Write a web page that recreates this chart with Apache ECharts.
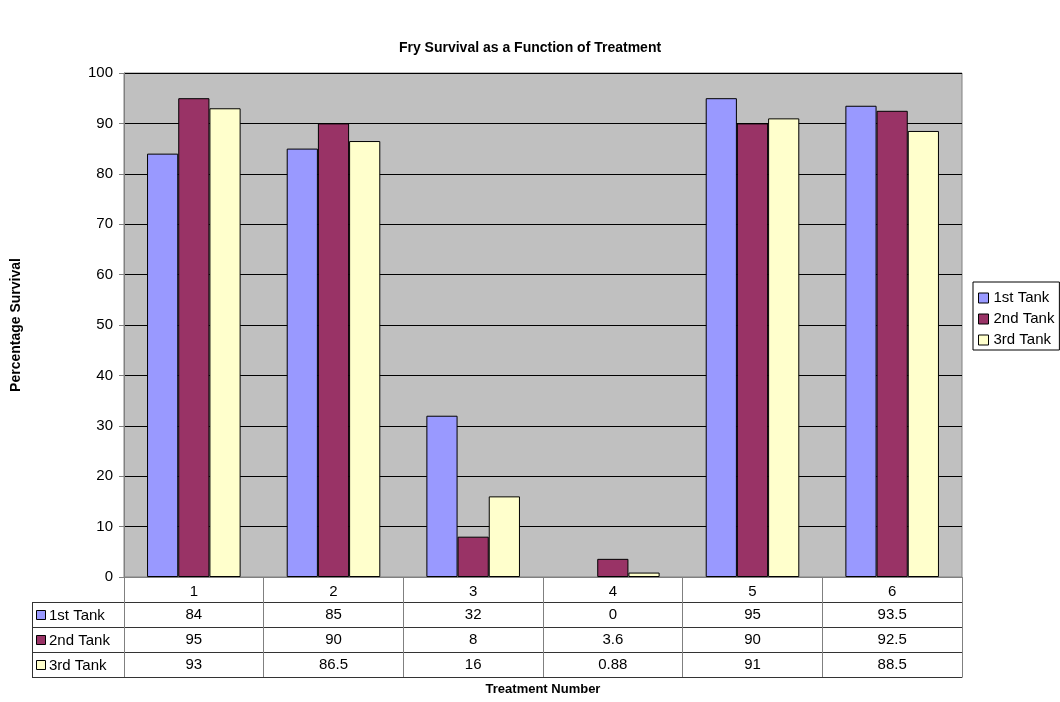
<!DOCTYPE html>
<html>
<head>
<meta charset="utf-8">
<script src="https://cdn.jsdelivr.net/npm/echarts@6/dist/echarts.min.js"></script>
<style>html,body{margin:0;padding:0;background:#fff;}#c{width:1060px;height:702px;}</style>
</head>
<body>
<div id="c"></div>
<script>
var categories = ['1', '2', '3', '4', '5', '6'];
var seriesNames = ['1st Tank', '2nd Tank', '3rd Tank'];
var tank1 = [84, 85, 32, 0, 95, 93.5];
var tank2 = [95, 90, 8, 3.6, 90, 92.5];
var tank3 = [93, 86.5, 16, 0.88, 91, 88.5];
var tankLabels1 = ['84', '85', '32', '0', '95', '93.5'];
var tankLabels2 = ['95', '90', '8', '3.6', '90', '92.5'];
var tankLabels3 = ['93', '86.5', '16', '0.88', '91', '88.5'];
var colors = ['#9999FF', '#993366', '#FFFFCC'];

var FONT = '"Liberation Sans", Arial, sans-serif';
var W = 1060, H = 702;
var G = {left: 124, right: 98, top: 73, bottom: 125};
var ROW = 25;
var tableLeft = 32;
var gridBottomY = H - G.bottom;

var seriesData = [tank1, tank2, tank3];

function rowAxis(idx, labels) {
  return {
    type: 'category', data: categories, gridIndex: 0, position: 'bottom',
    offset: ROW * idx,
    axisLine: {show: true, lineStyle: {color: idx === 0 ? '#808080' : '#333', width: 1}},
    axisTick: {show: true, length: ROW, interval: 0, lineStyle: {color: '#808080', width: 1}},
    axisLabel: {
      show: true, interval: 0, margin: idx === 0 ? 7 : 5, color: '#000', fontFamily: FONT, fontSize: 15, lineHeight: 15,
      formatter: function (v, i) { return labels ? labels[i] : v; }
    },
    splitLine: {show: false}
  };
}

var xAxes = [rowAxis(0, null), rowAxis(1, tankLabels1), rowAxis(2, tankLabels2), rowAxis(3, tankLabels3)];
xAxes.push({
  type: 'category', data: categories, gridIndex: 0, position: 'bottom', offset: ROW * 4,
  axisLine: {show: true, lineStyle: {color: '#333', width: 1}},
  axisTick: {show: false}, axisLabel: {show: false}, splitLine: {show: false},
  name: 'Treatment Number', nameLocation: 'middle', nameGap: 6,
  nameTextStyle: {fontFamily: FONT, fontSize: 13, fontWeight: 'bold', color: '#000'}
});

var graphics = [];
for (var r = 1; r <= 4; r++) {
  graphics.push({type: 'line', silent: true,
    shape: {x1: tableLeft, y1: gridBottomY + ROW * r + 0.5, x2: G.left, y2: gridBottomY + ROW * r + 0.5},
    style: {stroke: '#333', lineWidth: 1}});
}
graphics.push({type: 'line', silent: true,
  shape: {x1: tableLeft + 0.5, y1: gridBottomY + ROW, x2: tableLeft + 0.5, y2: gridBottomY + ROW * 4},
  style: {stroke: '#333', lineWidth: 1}});
graphics.push({type: 'line', silent: true,
  shape: {x1: G.left + 0.5, y1: gridBottomY, x2: G.left + 0.5, y2: gridBottomY + ROW * 4},
  style: {stroke: '#808080', lineWidth: 1}});
for (var s = 0; s < seriesNames.length; s++) {
  var cy = gridBottomY + ROW * (s + 1) + ROW / 2;
  graphics.push({type: 'rect', silent: true,
    shape: {x: tableLeft + 4.5, y: Math.round(cy - 4.5) + 0.5, width: 9, height: 9},
    style: {fill: colors[s], stroke: '#000', lineWidth: 1}});
  graphics.push({type: 'text', silent: true,
    style: {text: seriesNames[s], x: tableLeft + 17, y: cy + 1, fill: '#000',
      font: '15px ' + FONT, verticalAlign: 'middle'}});
}

var series = seriesNames.map(function (n, i) {
  return {
    name: n, type: 'bar',
    data: seriesData[i].map(function (v) {
      return v === 0 ? {value: v, itemStyle: {borderWidth: 0, opacity: 0}} : v;
    }),
    xAxisIndex: 0, yAxisIndex: 0,
    barGap: '0%', barCategoryGap: '33%',
    itemStyle: {color: colors[i], borderColor: '#000', borderWidth: 1},
    emphasis: {disabled: true}
  };
});

var chart = echarts.init(document.getElementById('c'), null, {renderer: 'canvas'});
chart.setOption({
  animation: false,
  backgroundColor: '#fff',
  textStyle: {fontFamily: FONT},
  title: {
    text: 'Fry Survival as a Function of Treatment', left: 'center', top: 41, padding: 0,
    textStyle: {fontFamily: FONT, fontSize: 14, fontWeight: 'bold', color: '#000'}
  },
  legend: {
    orient: 'vertical', left: 973, top: 282, data: seriesNames,
    borderColor: '#000', borderWidth: 1, padding: [8, 5, 2, 5],
    itemWidth: 10, itemHeight: 10, itemGap: 5, icon: 'rect',
    itemStyle: {borderColor: '#000', borderWidth: 1},
    textStyle: {fontFamily: FONT, fontSize: 15, color: '#000', lineHeight: 16},
    selectedMode: false
  },
  grid: {
    left: G.left, right: G.right, top: G.top, bottom: G.bottom,
    show: true, backgroundColor: '#C0C0C0', borderColor: '#808080', borderWidth: 1
  },
  xAxis: xAxes,
  yAxis: {
    type: 'value', min: 0, max: 100, interval: 10,
    axisLine: {show: true, lineStyle: {color: '#808080'}},
    axisTick: {show: true, length: 5, lineStyle: {color: '#808080'}},
    axisLabel: {margin: 11, color: '#000', fontFamily: FONT, fontSize: 15},
    splitLine: {show: true, lineStyle: {color: '#000', width: 1}},
    name: 'Percentage Survival', nameLocation: 'middle', nameRotate: 90, nameGap: 101,
    nameTextStyle: {fontFamily: FONT, fontSize: 14, fontWeight: 'bold', color: '#000'}
  },
  graphic: graphics,
  series: series
});
</script>
</body>
</html>
